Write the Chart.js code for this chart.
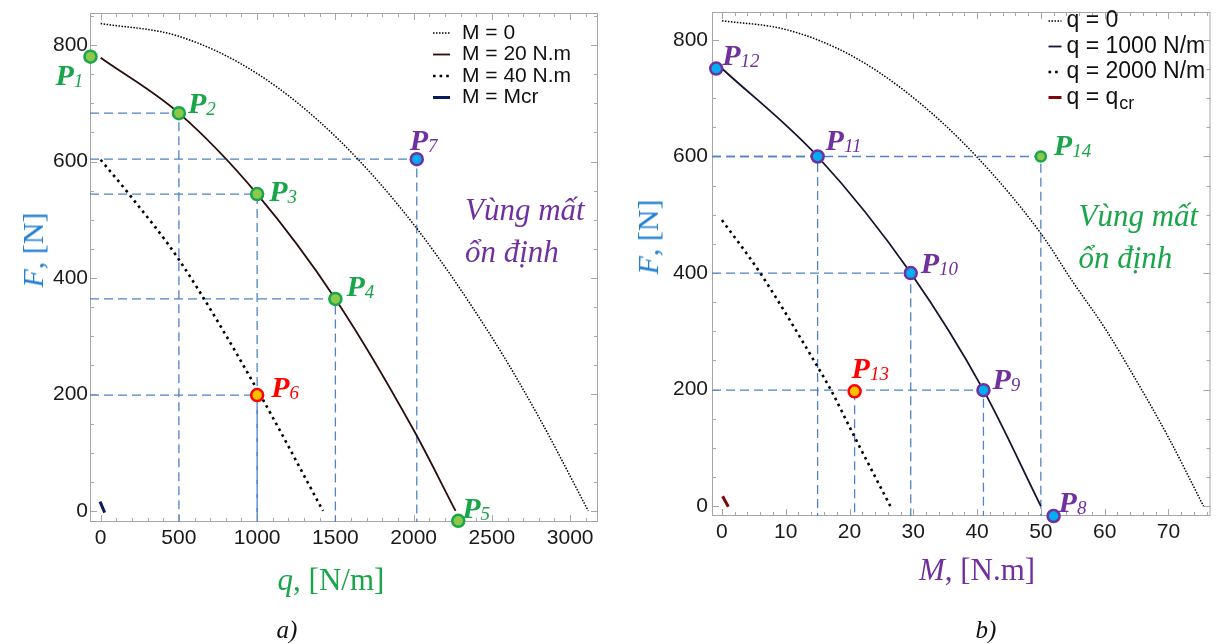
<!DOCTYPE html>
<html>
<head>
<meta charset="utf-8">
<script src="https://cdn.jsdelivr.net/npm/chart.js@4.4.1/dist/chart.umd.min.js"></script>
<style>
  body { margin: 0; background: #fff; width: 1219px; height: 644px; overflow: hidden; position: relative; }
  canvas { position: absolute; top: 0; }
  #chartA { left: 0; }
  #chartB { left: 610px; }
  .lbl { position: absolute; white-space: nowrap; font-family: "Liberation Serif", serif; transform: translate(-50%, -50%); }
</style>
</head>
<body>
<canvas id="chartA" width="610" height="644"></canvas>
<canvas id="chartB" width="609" height="644"></canvas>

<div class="lbl" style="left:33px;top:250px;transform:translate(-50%,-50%) rotate(-90deg);color:#1f7fd0;font-size:30px"><i>F</i>, [N]</div>
<div class="lbl" style="left:331px;top:580px;color:#19a64a;font-size:31px"><i>q</i>, [N/m]</div>
<div class="lbl" style="left:648px;top:237px;transform:translate(-50%,-50%) rotate(-90deg);color:#1f7fd0;font-size:30px"><i>F</i>, [N]</div>
<div class="lbl" style="left:977px;top:570px;color:#7030a0;font-size:31px"><i>M</i>, [N.m]</div>
<div class="lbl" style="left:287px;top:630px;color:#111;font-size:25px;font-style:italic">a)</div>
<div class="lbl" style="left:986px;top:630px;color:#111;font-size:25px;font-style:italic">b)</div>

<script>
// ---- chart a) : F vs q ----
const qTicks = [0, 500, 1000, 1500, 2000, 2500, 3000];
const fTicksA = [0, 200, 400, 600, 800];
const qM0 = [0, 500, 1000, 1500, 2000, 2500, 2800, 3116];
const fM0 = [837, 815, 751, 643, 492, 298, 161, 0];
const qM20 = [0, 500, 1000, 1500, 2000, 2268];
const fM20 = [778, 683, 544, 364, 139, 0];
const qM40 = [0, 187, 494, 995, 1421];
const fM40 = [603, 542, 434, 211, 0];
const qMcr = [-4, 26];
const fMcr = [16, -3];
const ptNamesA = ['1', '2', '3', '4', '5', '6', '7'];
const ptQ = [-65, 500, 1000, 1500, 2285, 1000, 2020];
const ptFA = [780, 683, 544, 364, -17, 199, 604];
const legendA = ['M = 0', 'M = 20 N.m', 'M = 40 N.m', 'M = Mcr'];

// ---- chart b) : F vs M ----
const mTicks = [0, 10, 20, 30, 40, 50, 60, 70];
const fTicksB = [0, 200, 400, 600, 800];
const mQ0 = [0, 10, 20, 30, 40, 50, 55, 60, 65, 70, 75.5];
const fQ0 = [833, 818, 775, 701, 599, 468, 385, 306, 215, 118, 0];
const mQ1000 = [0, 15, 29.6, 41, 50];
const fQ1000 = [751, 600, 400, 199, 0];
const mQ2000 = [0, 6, 15, 17.1, 20.5, 26.4];
const fQ2000 = [491, 400, 239, 199, 125, 0];
const mQcr = [0.1, 1];
const fQcr = [17, -1];
const ptNamesB = ['8', '9', '10', '11', '12', '13', '14'];
const ptM = [52, 41, 29.6, 15, -0.9, 20.8, 50];
const ptFB = [-17, 199, 400, 600, 751, 197, 600];
const legendB = ['q = 0', 'q = 1000 N/m', 'q = 2000 N/m', 'q = q_cr'];

const regionText = ['Vùng mất', 'ổn định'];

const GREEN = '#19a64a', RED = '#ff0000', PURPLE = '#7030a0';
const GUIDE = '#4f82c8';

const xy = (xs, ys) => xs.map((v, i) => ({ x: v, y: ys[i] }));

function guide(px, py, xMin, yMin, horiz = true) {
  const pts = horiz ? [{ x: xMin, y: py }, { x: px, y: py }, { x: px, y: yMin }] : [{ x: px, y: py }, { x: px, y: yMin }];
  return { data: pts, showLine: true, pointRadius: 0, borderColor: GUIDE, borderWidth: 1.3, borderDash: [9, 5], order: 3 };
}

function curve(label, xs, ys, color, width, dash) {
  return { label, data: xy(xs, ys), showLine: true, pointRadius: 0, borderColor: color, borderWidth: width,
           borderDash: dash, cubicInterpolationMode: 'monotone', order: 2 };
}

function drawP(ctx, x, y, sub, color) {
  ctx.fillStyle = color;
  ctx.textAlign = 'left';
  ctx.textBaseline = 'alphabetic';
  ctx.font = 'italic bold 30px "Liberation Serif"';
  ctx.fillText('P', x, y + 10);
  const w = ctx.measureText('P').width;
  ctx.font = 'italic 19px "Liberation Serif"';
  ctx.fillText(sub, x + w, y + 12);
}

const decor = {
  id: 'decor',
  beforeDatasetsDraw(chart, args, o) {
    const { ctx, chartArea: a, scales: { x, y } } = chart;
    ctx.save();
    ctx.strokeStyle = '#a6a6a6';
    ctx.lineWidth = 1;
    ctx.strokeRect(a.left + 0.5, a.top + 0.5, a.width - 1, a.height - 1);
    const seg = (x1, y1, x2, y2) => { ctx.beginPath(); ctx.moveTo(x1, y1); ctx.lineTo(x2, y2); ctx.stroke(); };
    const n0 = Math.ceil(x.min / o.xMinor), n1 = Math.floor(x.max / o.xMinor);
    for (let n = n0; n <= n1; n++) {
      const v = n * o.xMinor;
      const L = n % o.xEvery === 0 ? 7 : 4;
      const px = Math.round(x.getPixelForValue(v)) + 0.5;
      seg(px, a.bottom, px, a.bottom - L);
      seg(px, a.top, px, a.top + L);
    }
    const m0 = Math.ceil(y.min / o.yMinor), m1 = Math.floor(y.max / o.yMinor);
    for (let n = m0; n <= m1; n++) {
      const v = n * o.yMinor;
      const L = n % o.yEvery === 0 ? 7 : 4;
      const py = Math.round(y.getPixelForValue(v)) + 0.5;
      seg(a.left, py, a.left + L, py);
      seg(a.right, py, a.right - L, py);
    }
    ctx.restore();
  },
  afterDatasetsDraw(chart, args, o) {
    const { ctx, chartArea: a, scales: { x, y } } = chart;
    ctx.save();
    // legend
    const lg = o.legend;
    lg.sets.forEach((di, i) => {
      const ds = chart.data.datasets[di];
      const yy = a.top + lg.top + i * lg.step;
      const tx = a.right - lg.right;
      ctx.strokeStyle = ds.borderColor;
      ctx.lineWidth = ds.borderWidth;
      ctx.setLineDash(ds.borderDash || []);
      ctx.beginPath();
      ctx.moveTo(tx - lg.x0, yy);
      ctx.lineTo(tx - lg.x1, yy);
      ctx.stroke();
      ctx.setLineDash([]);
      ctx.fillStyle = '#111';
      ctx.textBaseline = 'middle';
      ctx.textAlign = 'left';
      ctx.font = lg.size + 'px "Liberation Sans"';
      const [main, sub] = ds.label.split('_');
      ctx.fillText(main, tx, yy);
      if (sub) {
        const w = ctx.measureText(main).width;
        ctx.font = Math.round(lg.size * 0.8) + 'px "Liberation Sans"';
        ctx.fillText(sub, tx + w + 1, yy + 7);
      }
    });
    // point labels
    const meta = chart.getDatasetMeta(o.pointSet);
    o.names.forEach((name, i) => {
      const el = meta.data[i];
      const [dx, dy] = o.offsets[i];
      drawP(ctx, el.x + dx, el.y + dy, name, o.labelColors[i]);
    });
    // region text
    ctx.fillStyle = o.region.color;
    ctx.font = 'italic 31px "Liberation Serif"';
    ctx.textAlign = 'left';
    ctx.textBaseline = 'alphabetic';
    const rx = x.getPixelForValue(o.region.x), ry = y.getPixelForValue(o.region.y);
    regionText.forEach((t, i) => ctx.fillText(t, rx, ry + i * 42));
    ctx.restore();
  }
};

function axis(min, max, ticks, fit, pad) {
  return {
    type: 'linear', min, max,
    afterBuildTicks: s => { s.ticks = ticks.map(v => ({ value: v })); },
    afterFit: fit,
    grid: { display: false },
    border: { display: false },
    ticks: { font: { family: 'Liberation Sans', size: 21 }, color: '#1a1a1a', padding: pad,
             maxRotation: 0, autoSkip: false, callback: v => String(v) }
  };
}

function markers(xs, ys, fills, borders, radii) {
  return { data: xy(xs, ys), showLine: false, pointRadius: radii, pointHoverRadius: radii,
           pointBackgroundColor: fills, pointBorderColor: borders, pointBorderWidth: 2.5, clip: false, order: 0 };
}

// chart a
const qMin = -68, qMax = 3178, fMinA = -19, fMaxA = 855;
new Chart(document.getElementById('chartA'), {
  type: 'scatter',
  data: {
    datasets: [
      markers(ptQ, ptFA,
        ['#8cc84b', '#8cc84b', '#8cc84b', '#8cc84b', '#8cc84b', '#ffc000', '#00aeef'],
        [GREEN, GREEN, GREEN, GREEN, GREEN, RED, PURPLE], 6),
      curve(legendA[0], qM0, fM0, '#000', 1.5, [1.5, 1.5]),
      curve(legendA[1], qM20, fM20, '#2b0c0c', 1.8, []),
      curve(legendA[2], qM40, fM40, '#000', 2.6, [2.6, 4]),
      curve(legendA[3], qMcr, fMcr, '#0b1a5c', 3, []),
      guide(ptQ[1], ptFA[1], qMin, fMinA),
      guide(ptQ[2], ptFA[2], qMin, fMinA),
      guide(ptQ[3], ptFA[3], qMin, fMinA),
      guide(ptQ[5], ptFA[5], qMin, fMinA),
      guide(ptQ[6], ptFA[6], qMin, fMinA)
    ]
  },
  options: {
    responsive: false, animation: false,
    layout: { padding: { top: 13, right: 12, left: 0, bottom: 0 } },
    scales: {
      x: axis(qMin, qMax, qTicks, s => { s.height = 122; }, -4),
      y: axis(fMinA, fMaxA, fTicksA, s => { s.width = 90; }, -6)
    },
    plugins: {
      legend: { display: false }, tooltip: { enabled: false },
      decor: {
        xMinor: 100, xEvery: 5, yMinor: 50, yEvery: 4,
        legend: { sets: [1, 2, 3, 4], top: 20, step: 21.5, right: 136, x0: 29, x1: 12, size: 21 },
        pointSet: 0, names: ptNamesA,
        offsets: [[-35, 18], [9, -10], [12, -3], [11, -13], [4, -13], [14, -8], [-7, -19]],
        labelColors: [GREEN, GREEN, GREEN, GREEN, GREEN, RED, PURPLE],
        region: { x: 2328, y: 500, color: PURPLE }
      }
    }
  },
  plugins: [decor]
});

// chart b
const mMin = -1.56, mMax = 76.6, fMinB = -17, fMaxB = 848;
new Chart(document.getElementById('chartB'), {
  type: 'scatter',
  data: {
    datasets: [
      markers(ptM, ptFB,
        ['#00aeef', '#00aeef', '#00aeef', '#00aeef', '#00aeef', '#ffc000', '#8cc84b'],
        [PURPLE, PURPLE, PURPLE, PURPLE, PURPLE, RED, GREEN], [6, 6, 6, 6, 6, 6, 5]),
      curve(legendB[0], mQ0, fQ0, '#000', 1.5, [1.5, 1.5]),
      curve(legendB[1], mQ1000, fQ1000, '#14142e', 1.8, []),
      curve(legendB[2], mQ2000, fQ2000, '#000', 2.6, [2.6, 4]),
      curve(legendB[3], mQcr, fQcr, '#7a0a0a', 3, []),
      guide(ptM[1], ptFB[1], mMin, fMinB),
      guide(ptM[2], ptFB[2], mMin, fMinB),
      guide(ptM[3], ptFB[3], mMin, fMinB),
      guide(ptM[5], ptFB[5], mMin, fMinB, false),
      guide(ptM[6], ptFB[6], mMin, fMinB)
    ]
  },
  options: {
    responsive: false, animation: false,
    layout: { padding: { top: 12, right: 7, left: 0, bottom: 0 } },
    scales: {
      x: axis(mMin, mMax, mTicks, s => { s.height = 128; }, -4),
      y: axis(fMinB, fMaxB, fTicksB, s => { s.width = 102; }, -4)
    },
    plugins: {
      legend: { display: false }, tooltip: { enabled: false },
      decor: {
        xMinor: 2, xEvery: 5, yMinor: 50, yEvery: 4,
        legend: { sets: [1, 2, 3, 4], top: 9, step: 25.5, right: 144, x0: 18, x1: 5, size: 23 },
        pointSet: 0, names: ptNamesB,
        offsets: [[5, -14], [9, -11], [10, -10], [8, -16], [6, -14], [-3, -23], [13, -11]],
        labelColors: [PURPLE, PURPLE, PURPLE, PURPLE, PURPLE, RED, GREEN],
        region: { x: 55.9, y: 480, color: GREEN }
      }
    }
  },
  plugins: [decor]
});
</script>
</body>
</html>
